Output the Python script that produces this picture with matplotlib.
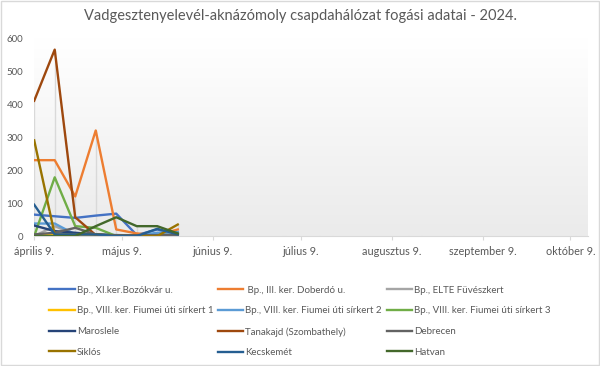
import datetime as dt
import numpy as np
import matplotlib.pyplot as plt
import matplotlib.dates as mdates
from matplotlib.patches import Rectangle
from matplotlib.colors import LinearSegmentedColormap

plt.rcParams['font.family'] = ['Lato', 'DejaVu Sans']

# mintavételi napok (heti)
dates = [dt.date(2024, 4, 9), dt.date(2024, 4, 16), dt.date(2024, 4, 23),
         dt.date(2024, 4, 30), dt.date(2024, 5, 7), dt.date(2024, 5, 14),
         dt.date(2024, 5, 21), dt.date(2024, 5, 28)]

names = ["Bp., XI.ker.Bozókvár u.", " Bp., III. ker. Doberdó u.",
         "Bp., ELTE Füvészkert", "Bp., VIII. ker. Fiumei úti sírkert 1",
         "Bp., VIII. ker. Fiumei úti sírkert 2", "Bp., VIII. ker. Fiumei úti sírkert 3",
         "Maroslele", "Tanakajd (Szombathely)", "Debrecen",
         "Siklós", "Kecskemét", "Hatvan"]

bozokvar = [65, 60, 55, 62, 68, 3, 20, 3]
doberdo = [230, 230, 120, 320, 20, 8, 3, 20]
elte = [0, 30, 5, 5, 3, 2, 5, 8]
fiumei1 = [3, 3, 3, 3, 2, 2, 2, 2]
fiumei2 = [38, 38, 5, 5, 3, 2, 10, 12]
fiumei3 = [0, 178, 30, 25, 0, 0, 0, 0]
maroslele = [32, 15, 10, 5, 2, 2, 2, 2]
tanakajd = [410, 565, 57, 3, 0, 0, 0, 0]
debrecen = [5, 10, 25, 5, 2, 2, 3, 3]
siklos = [290, 5, 5, 5, 0, 0, 0, 35]
kecskemet = [95, 5, 5, 5, 0, 0, 22, 5]
hatvan = [0, 0, 0, 30, 57, 30, 30, 8]

series = [bozokvar, doberdo, elte, fiumei1, fiumei2, fiumei3,
          maroslele, tanakajd, debrecen, siklos, kecskemet, hatvan]
colors = ['#4472C4', '#ED7D31', '#A5A5A5', '#FFC000', '#5B9BD5', '#70AD47',
          '#264478', '#9E480E', '#636363', '#997300', '#255E91', '#43682B']

tick_dates = [dt.date(2024, m, 9) for m in range(4, 11)]
tick_labels = ["április 9.", "május 9.", "június 9.", "július 9.",
               "augusztus 9.", "szeptember 9.", "október 9."]

fig = plt.figure(figsize=(6, 3.66), dpi=100)
fig.patches.append(Rectangle((0.002, 0.003), 0.996, 0.994, transform=fig.transFigure,
                             fill=False, edgecolor='#D9D9D9', lw=1))
ax = fig.add_axes([0.057, 0.355, 0.923, 0.541])

# háttér színátmenet
grad = np.linspace(1, 0, 100).reshape(-1, 1)
ax.imshow(grad, extent=[0, 1, 0, 1], transform=ax.transAxes, aspect='auto',
          cmap=LinearSegmentedColormap.from_list('g', ['#EBEBEB', '#FFFFFF']),
          vmin=0, vmax=1, zorder=0)

# függőleges vonalak a legnagyobb értékig
xd = mdates.date2num(dates)
tops = np.max(np.array(series), axis=0)
ax.vlines(xd, 0, tops, colors='#D9D9D9', lw=1, zorder=1)

lines = []
for vals, name, c in zip(series, names, colors):
    ln, = ax.plot(xd, vals, color=c, lw=1.7, label=name, zorder=2)
    lines.append(ln)

ax.set_xlim(mdates.date2num(dt.date(2024, 4, 9)), mdates.date2num(dt.date(2024, 10, 15)))
ax.set_ylim(0, 600)
ax.set_yticks([0, 100, 200, 300, 400, 500, 600])
ax.set_xticks(mdates.date2num(tick_dates))
ax.set_xticklabels(tick_labels)
ax.tick_params(axis='y', length=0, labelsize=7, colors='#595959', pad=8)
ax.tick_params(axis='x', length=3, color='#D9D9D9', labelsize=7.8, labelcolor='#595959', pad=4)
for s in ['top', 'right', 'left']:
    ax.spines[s].set_visible(False)
ax.spines['bottom'].set_color('#D9D9D9')

fig.suptitle("Vadgesztenyelevél-aknázómoly csapdahálózat fogási adatai - 2024.",
             x=0.5, y=0.975, fontsize=10.5, color='#595959')

# jelmagyarázat soronként (3 oszlop)
order = [0, 3, 6, 9, 1, 4, 7, 10, 2, 5, 8, 11]
fig.legend([lines[i] for i in order], [names[i] for i in order],
           loc='upper left', bbox_to_anchor=(0.076, 0.23), ncol=3, frameon=False,
           fontsize=7, labelcolor='#595959', handlelength=2.6, handletextpad=0.2,
           columnspacing=0.5, labelspacing=1.2, borderaxespad=0)

fig.savefig('out.png', dpi=100)
